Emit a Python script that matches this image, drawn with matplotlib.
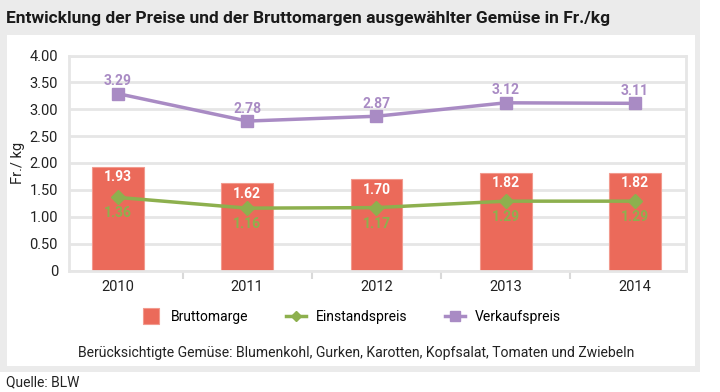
import numpy as np
import matplotlib
matplotlib.use('Agg')
from matplotlib import pyplot as plt
from matplotlib.patches import Rectangle
from matplotlib.lines import Line2D

plt.rcParams['font.family'] = ['Roboto', 'DejaVu Sans']

jahre = ['2010', '2011', '2012', '2013', '2014']
bruttomarge = [1.93, 1.62, 1.70, 1.82, 1.82]
einstandspreis = [1.36, 1.16, 1.17, 1.29, 1.29]
verkaufspreis = [3.29, 2.78, 2.87, 3.12, 3.11]
y_ticks = [0, 0.5, 1.0, 1.5, 2.0, 2.5, 3.0, 3.5, 4.0]
y_labels = ['0', '0.50', '1.00', '1.50', '2.00', '2.50', '3.00', '3.50', '4.00']

c_bar = '#eb6a5a'
c_green = '#8db04e'
c_purple = '#a98bc4'
c_grid = '#e6e6e6'

W, H = 720, 392
fig = plt.figure(figsize=(W / 100, H / 100), dpi=100)
fig.patch.set_facecolor('white')

# grauer Rahmen und weisses Feld
fig.patches.append(Rectangle((0, 1 - 372 / H), 700 / W, 372 / H, transform=fig.transFigure,
                             facecolor='#ebebeb', edgecolor='none', zorder=-10))
fig.patches.append(Rectangle((7 / W, 1 - 366 / H), (695 - 7) / W, (366 - 35) / H, transform=fig.transFigure,
                             facecolor='white', edgecolor='none', zorder=-9))

fig.text(6 / W, 1 - 19 / H, 'Entwicklung der Preise und der Bruttomargen ausgewählter Gemüse in Fr./kg',
         fontsize=12.5, fontweight='bold', color='#1a1a1a', va='center', ha='left')

ax = fig.add_axes([69 / W, 1 - 270.5 / H, (686 - 69) / W, (270.5 - 55.5) / H])
ax.set_facecolor('none')
x = np.arange(len(jahre))

ax.bar(x, bruttomarge, width=0.4, color=c_bar, edgecolor='#f29a8e', linewidth=0.8, zorder=2)
ax.plot(x, einstandspreis, color=c_green, lw=2.5, marker='D', ms=7, zorder=3)
ax.plot(x, verkaufspreis, color=c_purple, lw=2.5, marker='s', ms=8, zorder=3)

for i in range(len(jahre)):
    ax.annotate(f'{bruttomarge[i]:.2f}', (x[i], bruttomarge[i]), xytext=(0, -7.5), textcoords='offset points',
                ha='center', va='center', color='white', fontsize=10, fontweight='bold', zorder=4)
    ax.annotate(f'{einstandspreis[i]:.2f}', (x[i], einstandspreis[i]), xytext=(0, -11.5), textcoords='offset points',
                ha='center', va='center', color=c_green, fontsize=10, fontweight='bold', zorder=4)
    ax.annotate(f'{verkaufspreis[i]:.2f}', (x[i], verkaufspreis[i]), xytext=(0, 9), textcoords='offset points',
                ha='center', va='center', color=c_purple, fontsize=10, fontweight='bold', zorder=4)

ax.set_xlim(-0.379, 4.395)
ax.set_ylim(0, 4.0)
ax.set_yticks(y_ticks)
ax.set_yticklabels(y_labels)
ax.yaxis.grid(True, color=c_grid, lw=2, zorder=0)
ax.set_axisbelow(True)
ax.tick_params(axis='y', length=0, pad=8, labelsize=10.5, labelcolor='#222222')
ax.set_xticks(x)
ax.set_xticklabels(jahre)
ax.tick_params(axis='x', length=0, pad=7, labelsize=10.5, labelcolor='#222222')
ax.set_xticks([0.5, 1.5, 2.5, 3.5], minor=True)
ax.tick_params(axis='x', which='minor', length=6, width=1.5, color='#d9d9d9', direction='out')
for s in ax.spines.values():
    s.set_color(c_grid)
    s.set_linewidth(2)
ax.set_ylabel('Fr./ kg', fontsize=10.5, color='#222222')
ax.yaxis.set_label_coords(-44 / 617, 0.5)

handles = [Line2D([], [], color=c_bar, lw=0, marker='s', ms=11.5, markeredgecolor='#f29a8e', markeredgewidth=0.8),
           Line2D([], [], color=c_green, lw=2.5, marker='D', ms=5),
           Line2D([], [], color=c_purple, lw=2.5, marker='s', ms=7)]
fig.legend(handles, ['Bruttomarge', 'Einstandspreis', 'Verkaufspreis'], loc='center',
           bbox_to_anchor=(351 / W, 1 - 317 / H), ncol=3, frameon=False, fontsize=10,
           handlelength=1.45, handletextpad=0.7, columnspacing=2.7)

fig.text(356 / W, 1 - 353 / H, 'Berücksichtigte Gemüse: Blumenkohl, Gurken, Karotten, Kopfsalat, Tomaten und Zwiebeln',
         fontsize=10.1, color='#222222', ha='center', va='center')
fig.text(6 / W, 1 - 382 / H, 'Quelle: BLW', fontsize=10, color='#222222', ha='left', va='center')

fig.savefig('out.png', dpi=100)
